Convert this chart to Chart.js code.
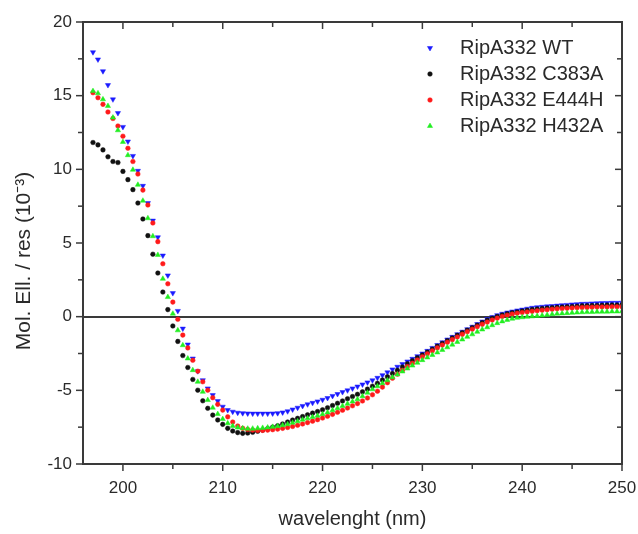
<!DOCTYPE html>
<html><head><meta charset="utf-8">
<script src="https://cdn.jsdelivr.net/npm/chart.js@4.4.1/dist/chart.umd.min.js"></script>
<style>html,body{margin:0;padding:0;background:#fff;}#wrap{width:638px;height:534px;position:relative;}</style>
</head><body><div id="wrap"><canvas id="c"></canvas></div>
<script>
const wavelengths = [197,197.5,198,198.5,199,199.5,200,200.5,201,201.5,202,202.5,203,203.5,204,204.5,205,205.5,206,206.5,207,207.5,208,208.5,209,209.5,210,210.5,211,211.5,212,212.5,213,213.5,214,214.5,215,215.5,216,216.5,217,217.5,218,218.5,219,219.5,220,220.5,221,221.5,222,222.5,223,223.5,224,224.5,225,225.5,226,226.5,227,227.5,228,228.5,229,229.5,230,230.5,231,231.5,232,232.5,233,233.5,234,234.5,235,235.5,236,236.5,237,237.5,238,238.5,239,239.5,240,240.5,241,241.5,242,242.5,243,243.5,244,244.5,245,245.5,246,246.5,247,247.5,248,248.5,249,249.5,250];

const wt = [17.95,17.46,16.66,15.72,14.75,13.82,12.88,11.89,10.91,9.90,8.88,7.71,6.52,5.39,4.15,2.80,1.60,0.39,-0.81,-1.89,-2.84,-3.70,-4.31,-4.87,-5.32,-5.73,-6.11,-6.34,-6.45,-6.52,-6.55,-6.57,-6.58,-6.58,-6.58,-6.58,-6.57,-6.55,-6.50,-6.42,-6.30,-6.18,-6.06,-5.95,-5.85,-5.75,-5.64,-5.52,-5.38,-5.25,-5.12,-5.00,-4.87,-4.74,-4.60,-4.46,-4.32,-4.15,-3.97,-3.78,-3.58,-3.40,-3.22,-3.04,-2.86,-2.68,-2.50,-2.32,-2.12,-1.92,-1.74,-1.55,-1.37,-1.19,-1.02,-0.85,-0.68,-0.50,-0.33,-0.16,-0.02,0.10,0.20,0.28,0.35,0.42,0.48,0.54,0.60,0.64,0.67,0.70,0.72,0.75,0.78,0.80,0.83,0.85,0.87,0.88,0.90,0.91,0.92,0.93,0.94,0.94,0.95];

const c383a = [11.82,11.66,11.32,10.85,10.53,10.46,9.86,9.30,8.62,7.71,6.63,5.50,4.24,2.96,1.67,0.48,-0.63,-1.68,-2.64,-3.45,-4.26,-4.99,-5.71,-6.22,-6.68,-7.01,-7.31,-7.58,-7.76,-7.87,-7.92,-7.90,-7.85,-7.78,-7.70,-7.60,-7.50,-7.40,-7.28,-7.15,-7.02,-6.90,-6.78,-6.66,-6.55,-6.44,-6.32,-6.18,-6.03,-5.88,-5.72,-5.57,-5.42,-5.27,-5.10,-4.92,-4.72,-4.52,-4.30,-4.08,-3.86,-3.64,-3.42,-3.20,-2.99,-2.79,-2.60,-2.41,-2.21,-2.01,-1.82,-1.63,-1.45,-1.27,-1.09,-0.92,-0.75,-0.58,-0.41,-0.25,-0.11,0.01,0.11,0.19,0.26,0.32,0.38,0.43,0.48,0.52,0.55,0.58,0.61,0.63,0.65,0.67,0.69,0.71,0.73,0.74,0.75,0.76,0.77,0.78,0.79,0.79,0.80];

const e444h = [15.20,14.86,14.41,13.89,13.45,12.94,12.25,11.43,10.53,9.68,8.59,7.58,6.36,5.09,3.59,2.23,0.99,-0.18,-1.25,-2.12,-2.96,-3.70,-4.42,-4.99,-5.50,-5.95,-6.34,-6.80,-7.15,-7.42,-7.58,-7.66,-7.70,-7.72,-7.72,-7.70,-7.67,-7.63,-7.58,-7.52,-7.45,-7.37,-7.28,-7.19,-7.09,-6.99,-6.88,-6.76,-6.63,-6.49,-6.35,-6.20,-6.05,-5.90,-5.72,-5.52,-5.30,-5.06,-4.78,-4.48,-4.18,-3.90,-3.64,-3.39,-3.16,-2.94,-2.72,-2.52,-2.32,-2.12,-1.93,-1.74,-1.56,-1.38,-1.20,-1.02,-0.85,-0.68,-0.52,-0.37,-0.23,-0.10,0.01,0.10,0.17,0.23,0.28,0.32,0.36,0.40,0.44,0.47,0.50,0.53,0.55,0.57,0.59,0.61,0.62,0.63,0.64,0.65,0.66,0.66,0.67,0.67,0.68];

const h432a = [15.31,15.16,14.75,14.30,13.51,12.65,11.86,10.96,9.97,8.95,7.87,6.68,5.46,4.19,2.57,1.33,0.20,-0.93,-1.94,-2.84,-3.63,-4.42,-5.10,-5.66,-6.18,-6.61,-6.95,-7.24,-7.42,-7.53,-7.58,-7.60,-7.60,-7.58,-7.55,-7.52,-7.48,-7.43,-7.37,-7.30,-7.20,-7.10,-6.99,-6.90,-6.81,-6.72,-6.62,-6.50,-6.36,-6.21,-6.06,-5.91,-5.76,-5.61,-5.40,-5.16,-4.93,-4.72,-4.52,-4.32,-4.12,-3.92,-3.72,-3.52,-3.32,-3.13,-2.95,-2.77,-2.60,-2.43,-2.26,-2.08,-1.90,-1.72,-1.55,-1.37,-1.20,-1.03,-0.87,-0.72,-0.58,-0.44,-0.32,-0.22,-0.14,-0.08,-0.04,-0.01,0.02,0.05,0.08,0.12,0.16,0.20,0.22,0.24,0.26,0.28,0.30,0.31,0.32,0.33,0.34,0.34,0.35,0.35,0.36];

const seriesLabels = ['RipA332 WT','RipA332 C383A','RipA332 E444H','RipA332 H432A'];
const xTickValues = [200,205,210,215,220,225,230,235,240,245,250];
const yTickValues = [-10,-7.5,-5,-2.5,0,2.5,5,7.5,10,12.5,15,17.5,20];
const xTitle = 'wavelenght (nm)';
const yTitle = 'Mol. Ell. / res (10\u207B\u00B3)';

const FONT = "'Liberation Sans', Arial, sans-serif";
const INK = '#2a2a2a';

function pts(vals){ return vals.map((v,i)=>({x:wavelengths[i], y:v})); }

const styles = [
  {color:'#1a1aff', pointStyle:'triangle', rotation:180, radius:3},
  {color:'#111111', pointStyle:'circle', rotation:0, radius:2.3},
  {color:'#ff1a1a', pointStyle:'circle', rotation:0, radius:2.3},
  {color:'#22ee22', pointStyle:'triangle', rotation:0, radius:3}
];
const seriesValues = [wt, c383a, e444h, h432a];

const datasets = seriesValues.map((vals,k)=>({
  label: seriesLabels[k],
  data: pts(vals),
  showLine:false,
  backgroundColor: styles[k].color,
  borderColor: styles[k].color,
  borderWidth: 0.5,
  pointStyle: styles[k].pointStyle,
  rotation: styles[k].rotation,
  pointRadius: styles[k].radius,
  pointHoverRadius: styles[k].radius,
  order: 4-k
}));

const frameTicks = {
  id:'frameTicks',
  afterDraw(chart){
    const {ctx, chartArea:a, scales} = chart;
    const x = scales.x, y = scales.y;
    ctx.save();
    ctx.strokeStyle = '#3a3a3a';
    ctx.lineWidth = 2;
    ctx.strokeRect(a.left, a.top, a.right-a.left, a.bottom-a.top);
    ctx.lineWidth = 1.5;
    const seg=(x1,y1,x2,y2)=>{ctx.beginPath();ctx.moveTo(x1,y1);ctx.lineTo(x2,y2);ctx.stroke();};
    xTickValues.forEach(v=>{
      const px = x.getPixelForValue(v);
      const L = (v%10===0)?7:5;
      seg(px,a.bottom,px,a.bottom+L);
      seg(px,a.top,px,a.top+L);
    });
    yTickValues.forEach(v=>{
      const py = y.getPixelForValue(v);
      const L = (v%5===0)?7:5;
      seg(a.left-L,py,a.left,py);
      seg(a.right,py,a.right-L,py);
    });
    // y-axis title
    ctx.save();
    ctx.translate(24, 261);
    ctx.rotate(-Math.PI/2);
    ctx.font = '21px ' + FONT;
    ctx.fillStyle = INK;
    ctx.textAlign = 'center';
    ctx.textBaseline = 'middle';
    ctx.fillText(yTitle, 0, 0);
    ctx.restore();
    ctx.restore();
  }
};

const legendPlugin = {
  id:'customLegend',
  afterDraw(chart){
    const {ctx} = chart;
    const rowsY = [48,74,100,126];
    ctx.save();
    ctx.font = '20px ' + FONT;
    ctx.textBaseline = 'middle';
    ctx.textAlign = 'left';
    chart.data.datasets.forEach((ds,k)=>{
      ctx.fillStyle = ds.backgroundColor;
      ctx.strokeStyle = ds.borderColor;
      ctx.lineWidth = 0.5;
      Chart.helpers.drawPoint(ctx, {pointStyle: ds.pointStyle, rotation: ds.rotation, radius: ds.pointRadius, borderWidth:0.5}, 430, rowsY[k]);
      ctx.fillStyle = INK;
      ctx.fillText(ds.label, 460, rowsY[k]);
    });
    ctx.restore();
  }
};

new Chart(document.getElementById('c'), {
  type:'scatter',
  data:{datasets},
  options:{
    responsive:true,
    maintainAspectRatio:false,
    animation:false,
    events:[],
    layout:{padding:{top:22,right:16,left:0,bottom:0}},
    plugins:{legend:{display:false}, tooltip:{enabled:false}},
    scales:{
      x:{
        type:'linear', min:196, max:250,
        afterBuildTicks(s){ s.ticks = xTickValues.map(v=>({value:v})); },
        afterFit(s){ s.height = 70; s.paddingRight = 0; s.paddingLeft = 0; },
        ticks:{ callback:v => (v%10===0 ? String(v) : ''), font:{family:FONT,size:17}, color:INK, padding:14, autoSkip:false, maxRotation:0 },
        grid:{display:false, drawTicks:false},
        border:{display:false},
        title:{display:true, text:xTitle, font:{family:FONT,size:20}, color:INK, padding:{top:0,bottom:3}}
      },
      y:{
        type:'linear', min:-10, max:20,
        afterBuildTicks(s){ s.ticks = yTickValues.map(v=>({value:v})); },
        afterFit(s){ s.width = 83; s.paddingTop = 0; s.paddingBottom = 0; },
        ticks:{ callback:v => (v%5===0 ? String(v) : ''), font:{family:FONT,size:17}, color:INK, padding:11, autoSkip:false },
        grid:{ drawTicks:false, lineWidth:2, color: c => (c.tick && c.tick.value===0 ? '#3a3a3a' : 'rgba(0,0,0,0)') },
        border:{display:false},
        title:{display:false, text:yTitle}
      }
    }
  },
  plugins:[frameTicks, legendPlugin]
});
</script>
</body></html>
